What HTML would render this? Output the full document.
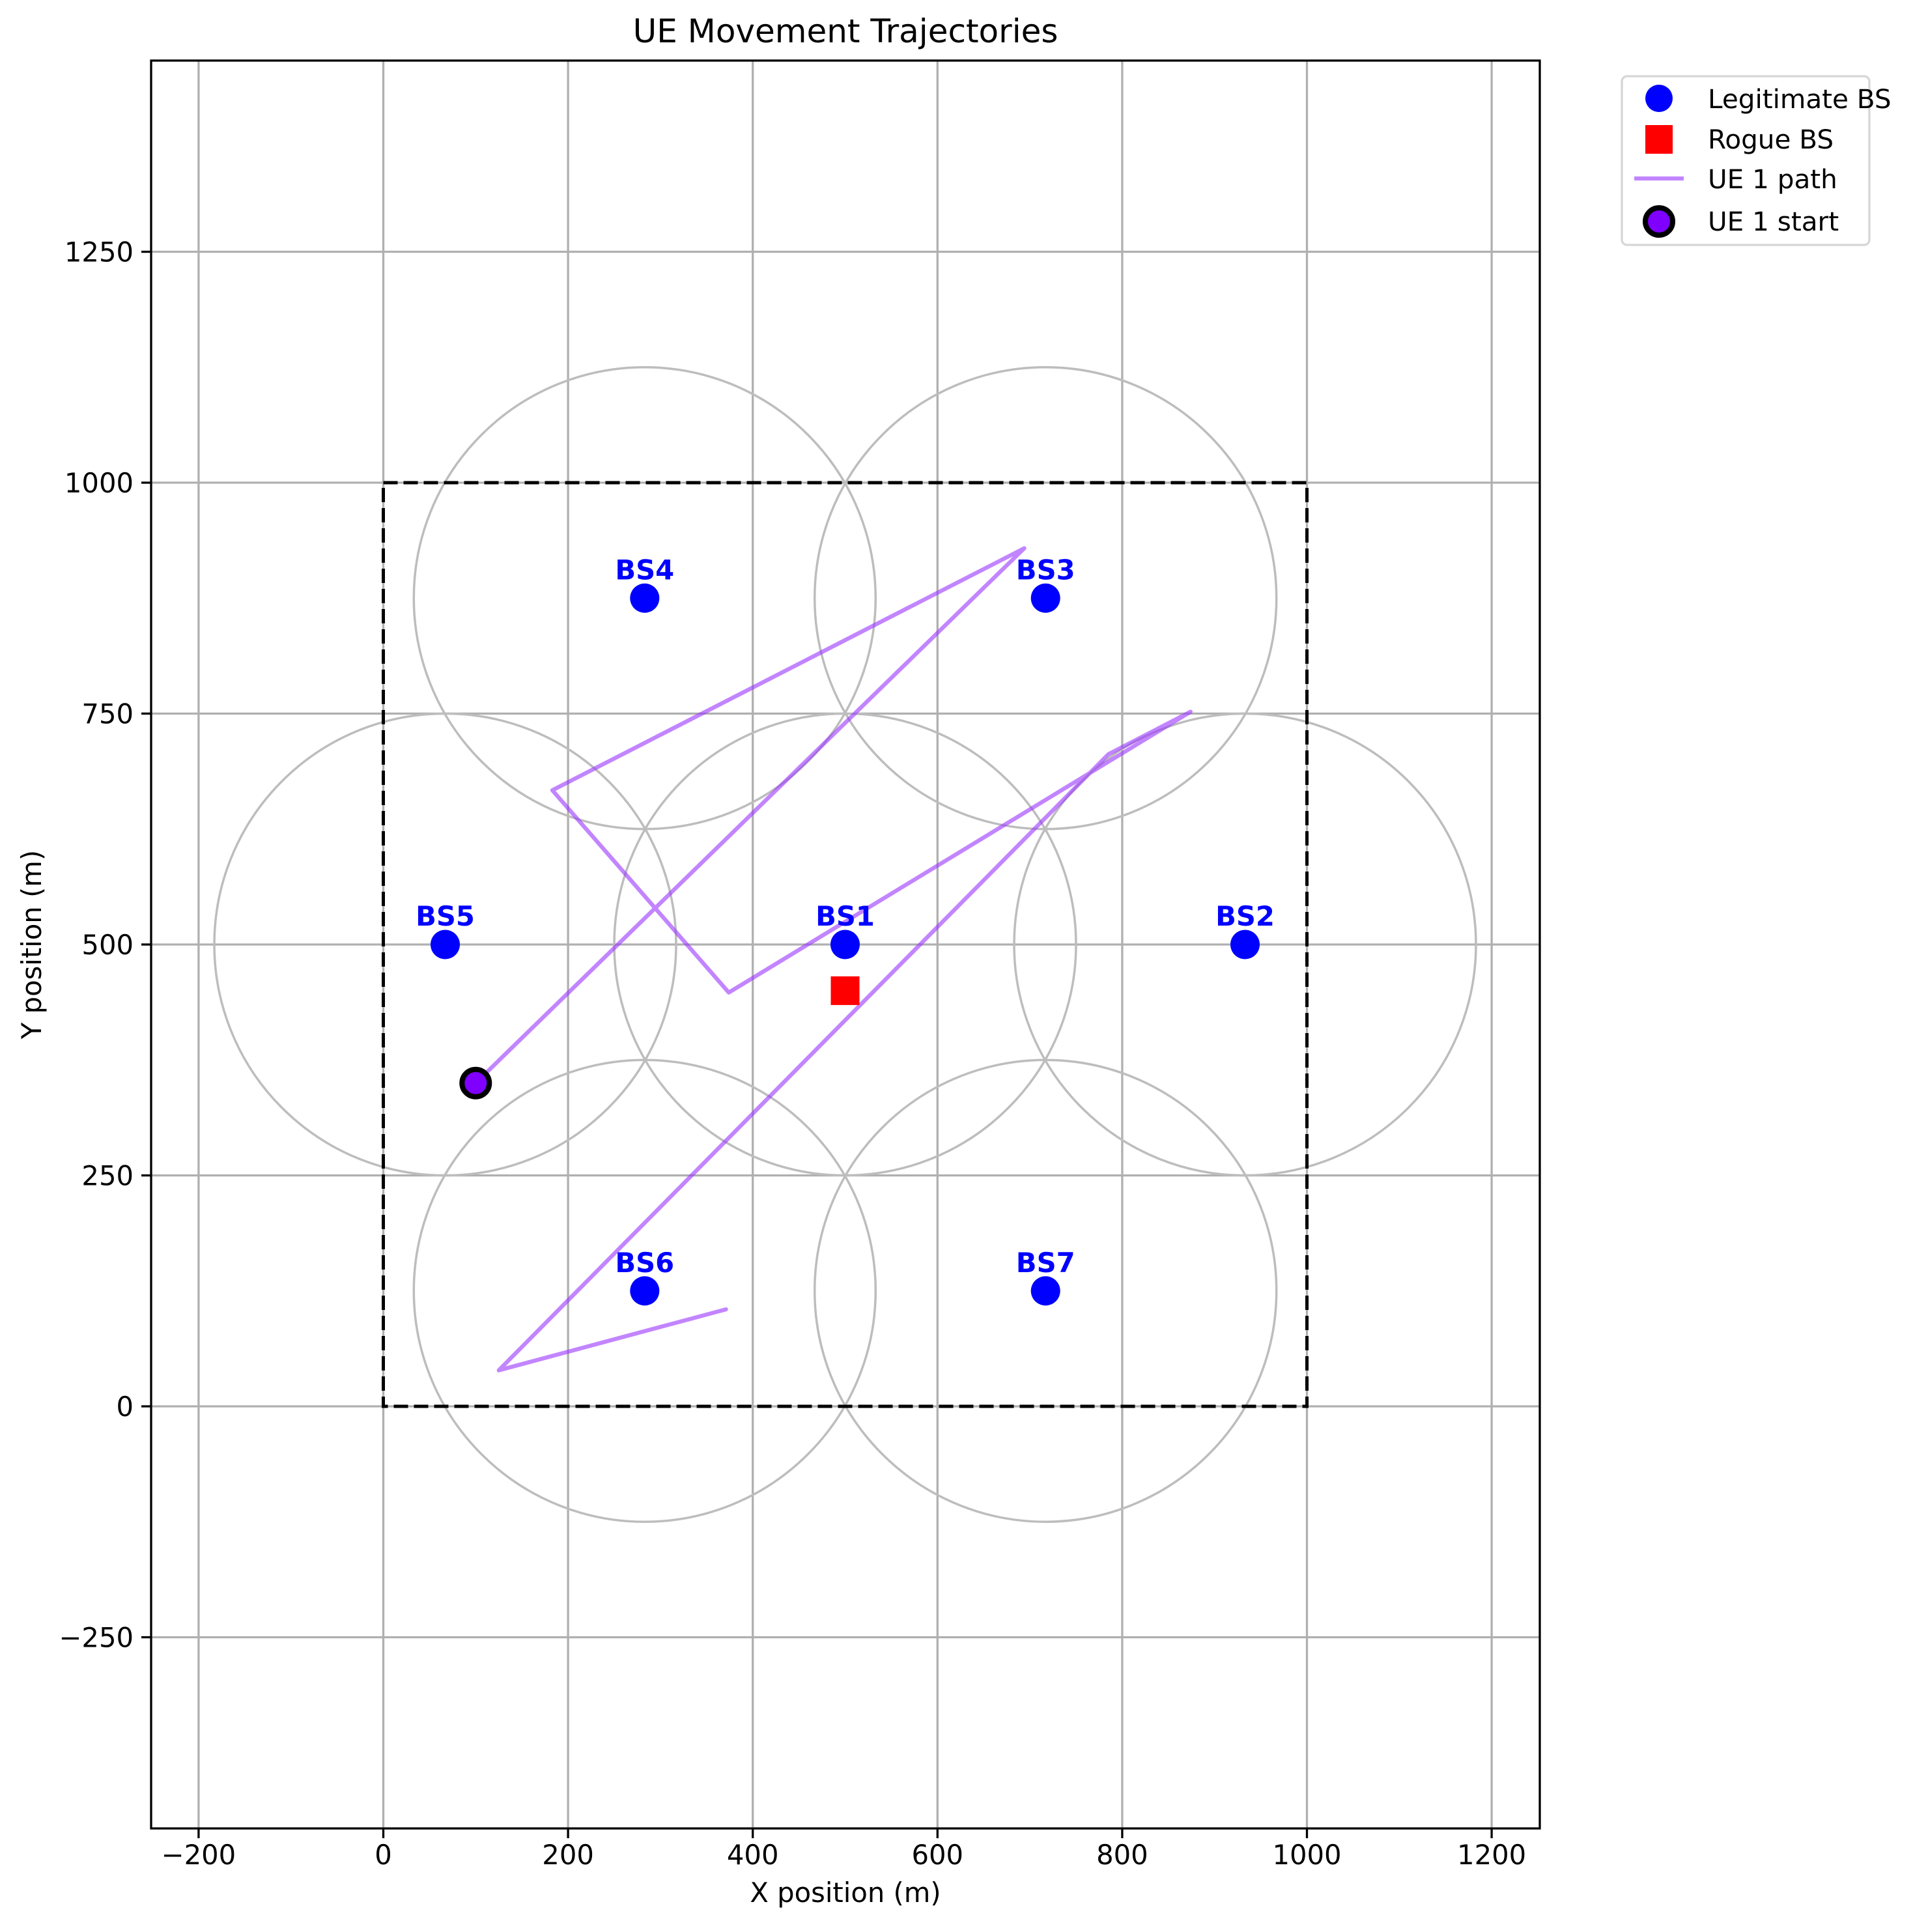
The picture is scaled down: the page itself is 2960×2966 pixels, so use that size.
<!DOCTYPE html>
<html><head><meta charset="utf-8"><style>
html,body{margin:0;padding:0;background:#fff;}
svg{display:block;font-family:"DejaVu Sans","Liberation Sans",sans-serif;}
</style></head>
<body>
<svg id="chart" width="2960" height="2966" viewBox="0 0 2960 2966" xmlns="http://www.w3.org/2000/svg">
<rect width="2960" height="2966" fill="#fff"/>
<defs><clipPath id="clip"><rect x="232" y="93" width="2132" height="2714"/></clipPath></defs>
<g id="grid"></g>
<g id="plot" clip-path="url(#clip)"></g>
<rect x="232" y="93" width="2132" height="2714" fill="none" stroke="#000" stroke-width="3.3"/>
<g id="ticks"></g>
<text x="1298" y="65" font-size="50" text-anchor="middle">UE Movement Trajectories</text>
<text x="1298" y="2920" font-size="41.7" text-anchor="middle">X position (m)</text>
<text x="63" y="1450" font-size="41.7" text-anchor="middle" transform="rotate(-90 63 1450)">Y position (m)</text>
<g>
<rect x="2490" y="117" width="380" height="259" rx="8" fill="#fff" fill-opacity="0.8" stroke="#d6d6d6" stroke-width="3.3"/>
<circle cx="2547" cy="151" r="21" fill="#0000ff"/>
<text x="2622" y="166" font-size="40.5">Legitimate BS</text>
<rect x="2526" y="192" width="42" height="44" fill="#ff0000"/>
<text x="2622" y="228" font-size="40.5">Rogue BS</text>
<line x1="2509" y1="274" x2="2585" y2="274" stroke="#9933ff" stroke-opacity="0.6" stroke-width="6.25"/>
<text x="2622" y="289" font-size="40.5">UE 1 path</text>
<circle cx="2547" cy="340" r="21" fill="#7f00ff" stroke="#000" stroke-width="8"/>
<text x="2622" y="354" font-size="40.5">UE 1 start</text>
</g>
</svg>
<script>
const xTicks = [-200, 0, 200, 400, 600, 800, 1000, 1200];
const yTicks = [-250, 0, 250, 500, 750, 1000, 1250];
const bsNames = ["BS1", "BS2", "BS3", "BS4", "BS5", "BS6", "BS7"];
const bsX = [500, 933, 717, 283, 67, 283, 717];
const bsY = [500, 500, 875, 875, 500, 125, 125];
const coverageRadius = 250;
const rogueX = [500];
const rogueY = [450];
const pathX = [100, 694, 183, 374, 874, 785, 125, 371];
const pathY = [350, 929, 667, 448, 752, 706, 39, 105];
const areaX = [0, 1000];
const areaY = [0, 1000];

const NS = "http://www.w3.org/2000/svg";
const PX = 1.418;
const sx = v => 588.5 + v * PX;
const sy = v => 2159 - v * PX;
function mk(tag, attrs, parent) {
  const e = document.createElementNS(NS, tag);
  for (const k in attrs) e.setAttribute(k, attrs[k]);
  parent.appendChild(e);
  return e;
}
const grid = document.getElementById('grid');
const plot = document.getElementById('plot');
const ticks = document.getElementById('ticks');

xTicks.forEach(v => {
  const g = mk('line', {x1: sx(v), x2: sx(v), y1: 93, y2: 2807, stroke: '#b0b0b0', 'stroke-width': 3.3}, grid);
  
  
  const t = mk('line', {x1: sx(v), x2: sx(v), y1: 2807, y2: 2822, stroke: '#000', 'stroke-width': 3.3}, ticks);
  
  
  const l = mk('text', {x: sx(v), y: 2862, 'font-size': 41.7, 'text-anchor': 'middle'}, ticks);
  l.textContent = v < 0 ? '\u2212' + Math.abs(v) : String(v);
  
  
});
yTicks.forEach(v => {
  const g = mk('line', {x1: 232, x2: 2364, y1: sy(v), y2: sy(v), stroke: '#b0b0b0', 'stroke-width': 3.3}, grid);
  
  
  const t = mk('line', {x1: 217, x2: 232, y1: sy(v), y2: sy(v), stroke: '#000', 'stroke-width': 3.3}, ticks);
  
  
  const l = mk('text', {x: 205, y: sy(v) + 15, 'font-size': 41.7, 'text-anchor': 'end'}, ticks);
  l.textContent = v < 0 ? '\u2212' + Math.abs(v) : String(v);
  
  
});

bsX.forEach((x, i) => {
  const c = mk('circle', {cx: sx(x), cy: sy(bsY[i]), r: coverageRadius * PX, fill: 'none', stroke: '#bdbdbd', 'stroke-width': 3.5}, plot);
  
  
});
const area = mk('rect', {x: sx(areaX[0]), y: sy(areaY[1]), width: sx(areaX[1]) - sx(areaX[0]), height: sy(areaY[0]) - sy(areaY[1]), fill: 'none', stroke: '#000', 'stroke-width': 5, 'stroke-dasharray': '22 9'}, plot);


const pts = pathX.map((x, i) => sx(x) + ',' + sy(pathY[i])).join(' ');
const pl = mk('polyline', {points: pts, fill: 'none', stroke: '#9933ff', 'stroke-opacity': 0.6, 'stroke-width': 6.25, 'stroke-linejoin': 'round', 'stroke-linecap': 'round'}, plot);


bsX.forEach((x, i) => {
  const c = mk('circle', {cx: sx(x), cy: sy(bsY[i]), r: 22.5, fill: '#0000ff'}, plot);
  
  
  const t = mk('text', {x: sx(x), y: sy(bsY[i]) - 29, 'font-size': 41.7, 'font-weight': 'bold', fill: '#0000ff', 'text-anchor': 'middle'}, plot);
  t.textContent = bsNames[i];
  
  
});
rogueX.forEach((x, i) => {
  const r = mk('rect', {x: sx(x) - 22, y: sy(rogueY[i]) - 22, width: 44, height: 44, fill: '#ff0000'}, plot);
  
  
});
const st = mk('circle', {cx: sx(pathX[0]), cy: sy(pathY[0]), r: 21, fill: '#7f00ff', stroke: '#000', 'stroke-width': 8}, plot);


</script>
</body></html>
